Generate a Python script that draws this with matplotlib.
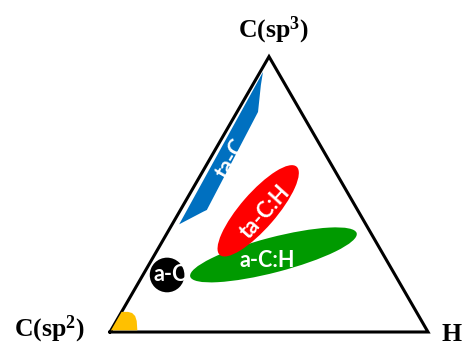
import numpy as np
import matplotlib
matplotlib.use('Agg')
import matplotlib.pyplot as plt
from matplotlib.patches import Polygon, Ellipse, Circle

plt.rcParams['mathtext.fontset'] = 'custom'
plt.rcParams['mathtext.rm'] = 'Liberation Serif:bold'
plt.rcParams['mathtext.it'] = 'Liberation Serif:bold'
plt.rcParams['mathtext.bf'] = 'Liberation Serif:bold'
plt.rcParams['mathtext.default'] = 'rm'

# ---- data (ternary percentages: sp3 fraction, H fraction) ----
corner_labels = ['C(sp$^{3}$)', 'C(sp$^{2}$)', 'H']

region_names = ['ta-C', 'ta-C:H', 'a-C:H', 'a-C']

# ta-C region outline
taC_sp3 = [94.4, 89.7, 79.9, 44.3, 43.7, 39.1]
taC_H = [0.9, 2.6, 6.6, 8.3, 7.5, 2.2]

# graphite-like corner region
gr_sp3 = [0.6, 7.3, 7.3, 6.9, 5.8, 4.0, 0.6]
gr_H = [0.0, 0.0, 2.0, 3.5, 5.0, 6.4, 8.3]

# ellipse regions: centre (sp3, H)
taCH_center = (44.0, 24.6)
aCH_center = (28.0, 37.4)
aC_center = (20.7, 7.6)

# label anchor points (sp3, H)
label_sp3 = [63.0, 43.7, 26.0, 20.7]
label_H = [6.7, 26.9, 36.5, 8.7]
label_rot = [60, 48, 0, 0]

colors = {'ta-C': '#0070C0', 'ta-C:H': '#FF0000', 'a-C:H': '#009A00',
          'a-C': '#000000', 'graphite': '#FFC000'}


def tern(sp3, h):
    sp3 = np.asarray(sp3, dtype=float) / 100.0
    h = np.asarray(h, dtype=float) / 100.0
    return h + sp3 / 2.0, sp3 * np.sqrt(3) / 2.0


fig = plt.figure(figsize=(4.64, 3.45), dpi=100)
ax = fig.add_axes([0, 0, 1, 1])
ax.set_xlim(-0.3459, 1.1132)
ax.set_ylim(-0.0409, 1.0440)
ax.set_aspect('equal')
ax.axis('off')

# triangle frame
tx, ty = tern([0, 0, 100, 0], [0, 100, 0, 0])
ax.plot(tx, ty, color='black', lw=2.2, solid_joinstyle='miter', zorder=3)

# ta-C polygon
bx, by = tern(taC_sp3, taC_H)
ax.add_patch(Polygon(np.column_stack([bx, by]), closed=True,
                     facecolor=colors['ta-C'], edgecolor='none', zorder=2))

# a-C:H ellipse
gx, gy = tern(*aCH_center)
ax.add_patch(Ellipse((gx, gy), 0.541, 0.110, angle=14.6,
                     facecolor=colors['a-C:H'], edgecolor='none', zorder=2))

# ta-C:H ellipse
rx, ry = tern(*taCH_center)
ax.add_patch(Ellipse((rx, ry), 0.368, 0.112, angle=49,
                     facecolor=colors['ta-C:H'], edgecolor='none', zorder=2.5))

# a-C circle
cx, cy = tern(*aC_center)
circ = Circle((cx, cy), 0.0545, facecolor=colors['a-C'], edgecolor='none', zorder=4)
ax.add_patch(circ)

# graphite corner
yx, yy = tern(gr_sp3, gr_H)
ax.add_patch(Polygon(np.column_stack([yx, yy]), closed=True,
                     facecolor=colors['graphite'], edgecolor='none', zorder=4))

# region labels
lx, ly = tern(label_sp3, label_H)
for name, x, y, r in zip(region_names, lx, ly, label_rot):
    t = ax.text(x, y, name, color='white', fontsize=15.5, fontweight='bold',
                family='Lato', rotation=r, rotation_mode='anchor',
                ha='center', va='center', zorder=5)
    if name == 'a-C':
        t.set_clip_path(circ)

# corner labels
serif = dict(family='Liberation Serif', fontweight='bold', fontsize=18.5,
             ha='center', va='baseline', color='black')
ax.text(0.5135, 0.9267, corner_labels[0], **serif)
ax.text(-0.1918, -0.0148, corner_labels[1], **serif)
ax.text(1.0739, -0.0283, corner_labels[2], **serif)

fig.savefig('out.png', dpi=100)
